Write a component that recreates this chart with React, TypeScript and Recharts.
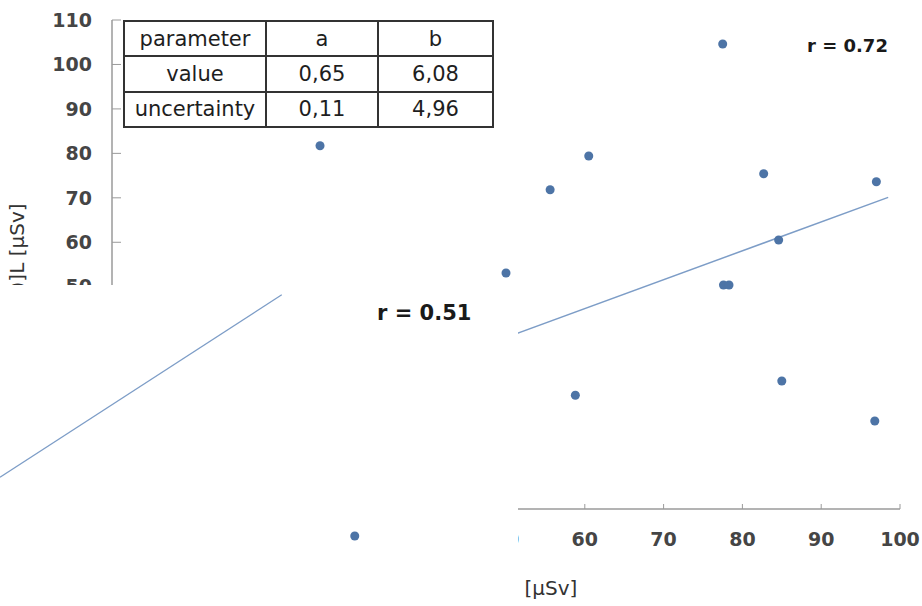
import { ScatterChart, Scatter, XAxis, YAxis, ZAxis, ReferenceLine } from 'recharts'

const xTicks = [0, 10, 20, 30, 40, 50, 60, 70, 80, 90, 100]
const yTicks = [0, 10, 20, 30, 40, 50, 60, 70, 80, 90, 100, 110]

// measured doses, main panel
const doseX = [26.4, 50.0, 77.5, 60.5, 55.6, 82.7, 97.0, 84.6, 77.6, 78.3, 58.8, 85.0, 96.8]
const doseY = [81.7, 53.1, 104.6, 79.4, 71.8, 75.4, 73.6, 60.5, 50.4, 50.4, 25.6, 28.8, 19.8]

// fitted line end points
const fitX = [20, 98.5]
const fitY = [19.1, 70.1]

const paramHeader = ['parameter', 'a', 'b']
const paramValue = ['value', '0,65', '6,08']
const paramUncertainty = ['uncertainty', '0,11', '4,96']
const rMain = 'r = 0.72'

// pasted fragment of the second panel
const insetFitX = [0, 35.9]
const insetFitY = [28.9, 69.8]
const insetPointX = [45.2]
const insetPointY = [15.7]
const rInset = 'r = 0.51'

const points = doseX.map((x, i) => ({ x, y: doseY[i] }))
const insetPoints = insetPointX.map((x, i) => ({ x, y: insetPointY[i] }))

const dotColor = '#4d74a6'
const fitColor = '#7d9dc7'
const axisColor = '#9a9a9a'
const tickFont = { fontSize: 19, fontFamily: 'DejaVu Sans', fontWeight: 'bold', fill: '#454545' }
const labelFont = { fontSize: 20, fontFamily: 'DejaVu Sans', fill: '#333' }

const cell = {
  border: '2px solid #333',
  padding: 0,
  textAlign: 'center' as const,
}

export default function App() {
  return (
    <div style={{ position: 'absolute', left: 0, top: 0, width: 922, height: 606, background: '#fff' }}>
      <ScatterChart width={922} height={606} margin={{ top: 20, right: 22, bottom: 0, left: 0 }}>
        <XAxis
          type="number"
          dataKey="x"
          domain={[0, 100]}
          ticks={xTicks}
          height={97}
          tickSize={-5}
          tickMargin={29}
          axisLine={{ stroke: axisColor, strokeWidth: 1.5 }}
          tickLine={{ stroke: axisColor }}
          tick={tickFont}
          label={{ value: 'H*(10)M [µSv]', position: 'insideBottom', offset: 11, style: labelFont }}
        />
        <YAxis
          type="number"
          dataKey="y"
          domain={[0, 110]}
          ticks={yTicks}
          width={112}
          tickSize={-9}
          tickMargin={29}
          axisLine={{ stroke: axisColor, strokeWidth: 1.5 }}
          tickLine={{ stroke: axisColor }}
          tick={tickFont}
          label={{
            value: '[H*(10)]L [µSv]',
            angle: -90,
            position: 'insideLeft',
            offset: 17,
            dy: 15,
            style: { ...labelFont, textAnchor: 'middle' },
          }}
        />
        <ZAxis range={[55, 55]} />
        <ReferenceLine
          segment={[
            { x: fitX[0], y: fitY[0] },
            { x: fitX[1], y: fitY[1] },
          ]}
          stroke={fitColor}
          strokeWidth={1.5}
        />
        <Scatter data={points} fill={dotColor} isAnimationActive={false} />
      </ScatterChart>

      <table
        style={{
          position: 'absolute',
          left: 123,
          top: 20,
          width: 369,
          height: 108,
          borderCollapse: 'collapse',
          background: '#fff',
          fontFamily: 'DejaVu Sans',
          fontSize: 21,
          color: '#1e1e1e',
          tableLayout: 'fixed',
        }}
      >
        <colgroup>
          <col style={{ width: 142 }} />
          <col style={{ width: 112 }} />
          <col style={{ width: 115 }} />
        </colgroup>
        <tbody>
          {[paramHeader, paramValue, paramUncertainty].map((row) => (
            <tr key={row[0]}>
              {row.map((c, j) => (
                <td key={j} style={cell}>
                  {c}
                </td>
              ))}
            </tr>
          ))}
        </tbody>
      </table>

      <div
        style={{
          position: 'absolute',
          left: 807,
          top: 36,
          fontFamily: 'DejaVu Sans',
          fontWeight: 'bold',
          fontSize: 18,
          lineHeight: '20px',
          color: '#1a1a1a',
          whiteSpace: 'nowrap',
        }}
      >
        {rMain}
      </div>

      <div style={{ position: 'absolute', left: 0, top: 285, width: 518, height: 321, background: '#fff' }}>
        <ScatterChart width={518} height={321} margin={{ top: 0, right: 0, bottom: 0, left: 0 }}>
          <XAxis type="number" dataKey="x" domain={[0, 66]} hide />
          <YAxis type="number" dataKey="y" domain={[0, 72]} hide />
          <ZAxis range={[55, 55]} />
          <ReferenceLine
            segment={[
              { x: insetFitX[0], y: insetFitY[0] },
              { x: insetFitX[1], y: insetFitY[1] },
            ]}
            stroke={fitColor}
            strokeWidth={1.3}
          />
          <Scatter data={insetPoints} fill={dotColor} isAnimationActive={false} />
        </ScatterChart>
        <div
          style={{
            position: 'absolute',
            left: 377,
            top: 16,
            fontFamily: 'DejaVu Sans',
            fontWeight: 'bold',
            fontSize: 21,
            lineHeight: '24px',
            color: '#1a1a1a',
            whiteSpace: 'nowrap',
          }}
        >
          {rInset}
        </div>
      </div>
    </div>
  )
}
